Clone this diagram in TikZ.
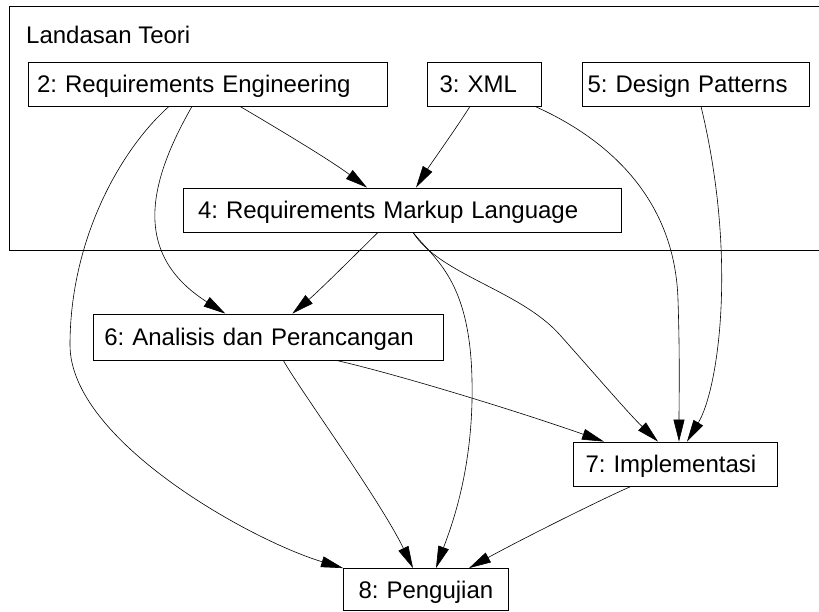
\documentclass[tikz,border=0pt]{standalone}
\usepackage{fontspec}
\setmainfont{Liberation Sans}
\frenchspacing
\usetikzlibrary{arrows.meta}
\tikzstyle{box} = [draw, line width=0.8pt, minimum height=44pt, inner xsep=12pt, inner ysep=0pt, text height=17pt, text depth=0pt, align=left, font=\fontsize{24}{26}\selectfont]
\tikzstyle{edge} = [line width=0.6pt, -{Triangle[length=22pt,width=11pt]}]

\begin{document}
\begin{tikzpicture}[x=1pt, y=-1pt]
\useasboundingbox (0,0) rectangle (819,612);

% cluster
\draw[line width=0.8pt] (9,6) rectangle (821,250);
\node[anchor=base west, inner sep=0pt, font=\fontsize{24}{26}\selectfont] (teori) at (26,44) {Landasan Teori};

\node[box, inner xsep=9pt, text width=341pt] (re) at (207.5,84) {2: Requirements Engineering};
\node[box, text width=90pt] (xml) at (484.5,84) {3: XML};
\node[box, inner xsep=5pt, text width=217pt] (dp) at (696,84) {5: Design Patterns};
\node[box, inner xsep=15pt, text width=408pt] (rml) at (402,210) {4: Requirements Markup Language};
\node[box, inner xsep=11pt, text width=328pt, minimum height=46pt] (adp) at (268.3,337) {6: Analisis dan Perancangan};
\node[box, text width=180pt] (impl) at (675.5,464) {7: Implementasi};
\node[box, inner xsep=15pt, text width=135pt, minimum height=42pt] (uji) at (426,589.5) {8: Pengujian};

\draw[edge] ([xshift=32.5pt]re.south) .. controls (280,130) and (330,160) .. ([xshift=-35pt]rml.north);
\draw[edge] ([xshift=-14.5pt]xml.south) .. controls (455,130) and (430,165) .. ([xshift=14pt]rml.north);
\draw[edge] ([xshift=-15.5pt]re.south) .. controls (150,180) and (130,253) .. ([xshift=-43pt]adp.north);
\draw[edge] ([xshift=-38.5pt]re.south) .. controls (120,150) and (70,240) .. (70,345)
    .. controls (70,440) and (250,540) .. (uji.north west);
\draw[edge] ([xshift=-24pt]rml.south) .. controls (355,255) and (320,290) .. ([xshift=24pt]adp.north);
\draw[edge] ([xshift=11pt]rml.south) .. controls (435,260) and (470,280) .. (472,380)
    .. controls (474,470) and (450,530) .. ([xshift=10pt]uji.north);
\draw[edge] ([xshift=11pt]rml.south) .. controls (440,275) and (520,290) .. (560,335)
    .. controls (600,380) and (630,415) .. ([xshift=-17.5pt]impl.north);
\draw[edge] ([xshift=50.5pt]xml.south) .. controls (610,140) and (675,200) .. (678,300)
    .. controls (680,360) and (679,400) .. ([xshift=3.5pt]impl.north);
\draw[edge] ([xshift=5pt]dp.south) .. controls (738,260) and (718,390) .. ([xshift=11.5pt]impl.north);
\draw[edge] ([xshift=68pt]adp.south) .. controls (400,375) and (520,412) .. ([xshift=-71.5pt]impl.north);
\draw[edge] ([xshift=15pt]adp.south) .. controls (300,390) and (380,500) .. ([xshift=-13pt]uji.north);
\draw[edge] ([xshift=-44.5pt]impl.south) .. controls (600,500) and (520,540) .. ([xshift=43pt]uji.north);
\end{tikzpicture}
\end{document}
